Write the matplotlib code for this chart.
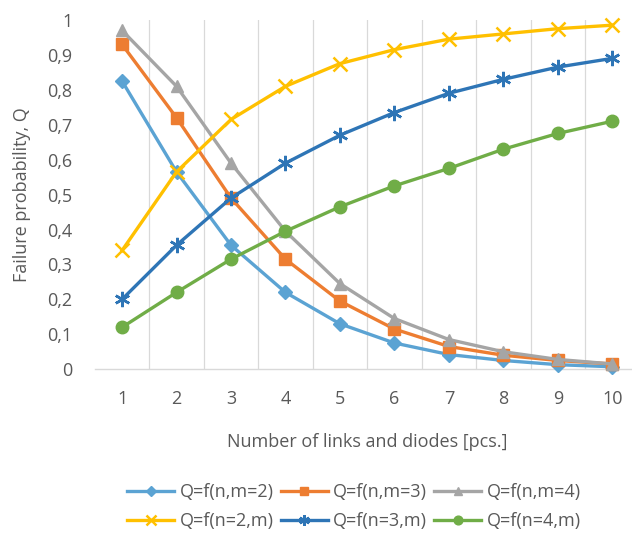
import matplotlib
matplotlib.use("Agg")
import matplotlib.pyplot as plt
from matplotlib.ticker import FuncFormatter

plt.rcParams['font.family'] = ['Open Sans', 'DejaVu Sans']

n = [1, 2, 3, 4, 5, 6, 7, 8, 9, 10]
q_m2 = [0.825, 0.565, 0.355, 0.22, 0.13, 0.075, 0.042, 0.025, 0.013, 0.007]
q_m3 = [0.93, 0.72, 0.49, 0.315, 0.195, 0.115, 0.065, 0.04, 0.025, 0.015]
q_m4 = [0.97, 0.81, 0.59, 0.395, 0.245, 0.145, 0.085, 0.05, 0.028, 0.015]
q_n2 = [0.34, 0.565, 0.715, 0.81, 0.875, 0.915, 0.945, 0.96, 0.975, 0.985]
q_n3 = [0.2, 0.355, 0.49, 0.59, 0.67, 0.735, 0.79, 0.83, 0.865, 0.89]
q_n4 = [0.12, 0.22, 0.315, 0.395, 0.465, 0.525, 0.575, 0.63, 0.675, 0.71]
labels = ["Q=f(n,m=2)", "Q=f(n,m=3)", "Q=f(n,m=4)",
          "Q=f(n=2,m)", "Q=f(n=3,m)", "Q=f(n=4,m)"]

series = [
    (q_m2, "#5BA3D3", "D", 7),
    (q_m3, "#ED7D31", "s", 8),
    (q_m4, "#A5A5A5", "^", 8),
    (q_n2, "#FFC000", "x", 10),
    (q_n3, "#2E75B6", (6, 2, 0), 11),
    (q_n4, "#70AD47", "o", 9),
]

fig = plt.figure(figsize=(6.32, 5.39), dpi=100)
ax = fig.add_axes([0.150, 0.315, 0.862, 0.648])

handles = []
for (vals, col, mk, ms), lab in zip(series, labels):
    mew = 1.8 if mk in ("x",) or isinstance(mk, tuple) else 1
    h, = ax.plot(n, vals, color=col, lw=2.4, marker=mk, markersize=ms,
                 markeredgewidth=mew, markeredgecolor=col, markerfacecolor=col,
                 label=lab, zorder=3, clip_on=False)
    handles.append(h)

ax.set_xlim(0.5, 10.5)
ax.set_ylim(0, 1)
ax.set_xticks(n)
ax.set_yticks([i / 10 for i in range(11)])
ax.yaxis.set_major_formatter(FuncFormatter(
    lambda v, p: "0" if abs(v) < 1e-9 else ("1" if abs(v - 1) < 1e-9 else ("%.1f" % v).replace(".", ","))))
for xg in [i + 0.5 for i in range(1, 10)]:
    ax.axvline(xg, color="#D9D9D9", lw=0.9, zorder=1)

for s in ["top", "right", "left"]:
    ax.spines[s].set_visible(False)
ax.spines["bottom"].set_color("#D9D9D9")
ax.spines["bottom"].set_linewidth(1)
ax.tick_params(axis="both", length=0, labelsize=13, colors="#595959")
ax.tick_params(axis="x", pad=15)
ax.tick_params(axis="y", pad=16)

ax.set_xlabel("Number of links and diodes [pcs.]", fontsize=13, color="#595959", labelpad=18)
ax.set_ylabel("Failure probability, Q", fontsize=13, color="#595959", labelpad=12)

order = [0, 3, 1, 4, 2, 5]
leg = fig.legend([handles[i] for i in order], [labels[i] for i in order],
                 loc="center", bbox_to_anchor=(0.56, 0.06), ncol=3, frameon=False,
                 fontsize=13, handlelength=2.6, columnspacing=0.4, handletextpad=0.3,
                 labelspacing=0.6, markerscale=0.7)
for t in leg.get_texts():
    t.set_color("#595959")

fig.savefig("out.png", dpi=100, facecolor="white")
